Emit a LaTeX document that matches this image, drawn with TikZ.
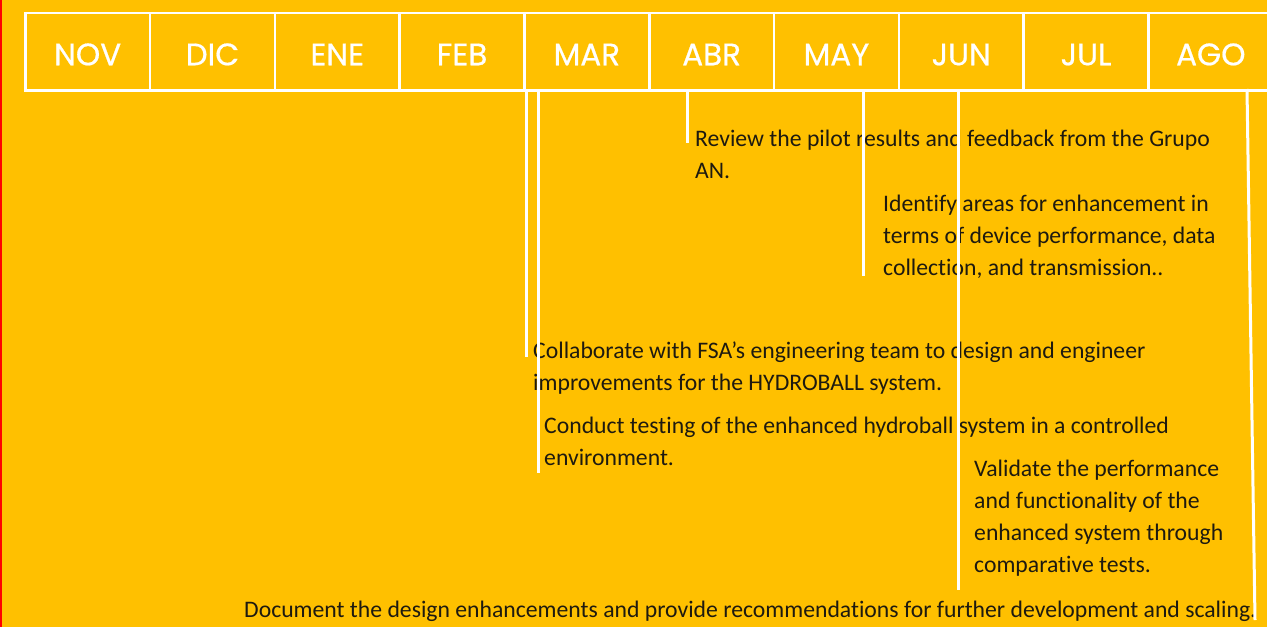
\documentclass[tikz,border=0pt]{standalone}
\usepackage{fontspec}
\setmainfont[Ligatures=NoCommon]{Carlito}
\newfontfamily\monthfont[FakeBold=0.6]{Poppins}
\definecolor{bgyellow}{HTML}{FFC000}
\definecolor{txtdark}{HTML}{1E1A10}
\begin{document}
\begin{tikzpicture}[x=1pt,y=-1pt,
  monthbox/.style={draw=white,line width=2.5pt,minimum width=124.8pt,minimum height=77.5pt,inner sep=0pt,anchor=north west,
     text=white,text height=27.5pt,text depth=0pt,font=\monthfont\fontsize{31}{33}\selectfont},
  tasktext/.style={anchor=base west,align=left,inner sep=0pt,text=txtdark,font=\fontsize{23.7}{32}\selectfont},
  marker/.style={draw=white,line width=3pt}]
\fill[bgyellow] (0,0) rectangle (1267,627);
\fill[red] (0,0) rectangle (2,627);
\useasboundingbox (0,0) rectangle (1267,627);
% months
\node[monthbox] (nov) at (24,11.5) {NOV};
\node[monthbox] (dic) at (148.8,11.5) {DIC};
\node[monthbox] (ene) at (273.6,11.5) {ENE};
\node[monthbox] (feb) at (398.4,11.5) {FEB};
\node[monthbox] (mar) at (523.2,11.5) {MAR};
\node[monthbox] (abr) at (648,11.5) {ABR};
\node[monthbox] (may) at (772.8,11.5) {MAY};
\node[monthbox] (jun) at (897.6,11.5) {JUN};
\node[monthbox] (jul) at (1022.4,11.5) {JUL};
\node[monthbox,minimum width=130pt] (ago) at (1147.2,11.5) {\hspace*{-5.2pt}AGO};
% tasks (anchor = baseline of the last line)
\node[tasktext] (review) at (695,178) {Review the pilot results and feedback from the Grupo\\AN.};
\node[tasktext] (identify) at (883,275) {Identify areas for enhancement in\\terms of device performance, data\\collection, and transmission..};
\node[tasktext] (collab) at (533,390) {Collaborate with FSA\symbol{39}s engineering team to design and engineer\\improvements for the HYDROBALL system.};
\node[tasktext] (conduct) at (544,465) {Conduct testing of the enhanced hydroball system in a controlled\\environment.};
\node[tasktext] (validate) at (974,572) {Validate the performance\\and functionality of the\\enhanced system through\\comparative tests.};
\node[tasktext] (document) at (244,617) {Document the design enhancements and provide recommendations for further development and scaling.};
% marker coordinates
\coordinate (c1s) at (526,89); \coordinate (c1e) at (526,357);
\coordinate (c2s) at (538,89); \coordinate (c2e) at (538,473);
\coordinate (c3s) at (687,89); \coordinate (c3e) at (687,143);
\coordinate (c4s) at (863,89); \coordinate (c4e) at (863,276);
\coordinate (c5s) at (958,89); \coordinate (c5e) at (958,590);
\coordinate (c6s) at (1247,89); \coordinate (c6e) at (1255,620);
\draw[marker] (c1s) -- (c1e);
\draw[marker] (c2s) -- (c2e);
\draw[marker] (c3s) -- (c3e);
\draw[marker] (c4s) -- (c4e);
\draw[marker] (c5s) -- (c5e);
\draw[marker] (c6s) -- (c6e);
\end{tikzpicture}
\end{document}
